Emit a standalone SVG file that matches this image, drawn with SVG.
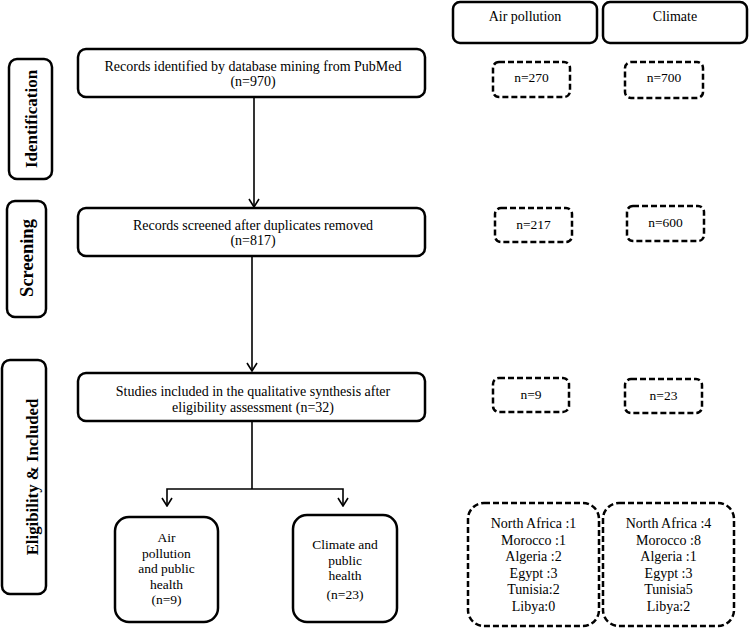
<svg xmlns="http://www.w3.org/2000/svg" width="749" height="629" viewBox="0 0 749 629">
<style>
.box{fill:#fff;stroke:#000;stroke-width:2.5}
.dash{fill:#fff;stroke:#000;stroke-width:2.5;stroke-dasharray:6 3}
.t{font-family:"Liberation Serif","Times New Roman",serif;font-size:13.5px;fill:#000;text-anchor:middle}
.m{font-family:"Liberation Serif","Times New Roman",serif;font-size:14px;fill:#000;text-anchor:middle}
.s{font-family:"Liberation Serif","Times New Roman",serif;font-size:14px;fill:#000;text-anchor:middle}
.side{font-family:"Liberation Serif","Times New Roman",serif;font-weight:bold;fill:#000;text-anchor:middle;dominant-baseline:central}
.ln{fill:none;stroke:#000;stroke-width:1.6}
</style>
<defs>
<marker id="ah" markerWidth="10" markerHeight="12" refX="9" refY="5.5" orient="auto-start-reverse" markerUnits="userSpaceOnUse" viewBox="0 0 10 11">
<path d="M1,0.5 L9,5.5 L1,10.5" fill="none" stroke="#000" stroke-width="1.6"/>
</marker>
</defs>
<rect width="749" height="629" fill="#fff"/>

<g id="side-identification">
<rect class="box" x="9" y="59" width="43" height="120" rx="8"/>
<text class="side" font-size="17" transform="translate(31,119) rotate(-90)">Identification</text>
</g>
<g id="side-screening">
<rect class="box" x="7" y="201" width="39" height="116" rx="8"/>
<text class="side" font-size="18.5" transform="translate(27,258) rotate(-90)">Screening</text>
</g>
<g id="side-eligibility">
<rect class="box" x="2" y="360" width="44" height="234" rx="8"/>
<text class="side" font-size="16.8" transform="translate(32,477) rotate(-90)">Eligibility &amp; Included</text>
</g>

<g id="hdr-air">
<rect class="box" x="453" y="2" width="144" height="41" rx="7"/>
<text class="m" x="525" y="21">Air pollution</text>
</g>
<g id="hdr-climate">
<rect class="box" x="603" y="2" width="144" height="41" rx="7"/>
<text class="m" x="675" y="21">Climate</text>
</g>

<g id="identified">
<rect class="box" x="78" y="49" width="347" height="48" rx="8"/>
<text class="m" x="253" y="71">Records identified by database mining from PubMed</text>
<text class="m" x="253" y="86">(n=970)</text>
</g>
<g id="screened">
<rect class="box" x="78" y="208" width="347" height="48" rx="8"/>
<text class="m" x="253" y="230">Records screened after duplicates removed</text>
<text class="m" x="253" y="245">(n=817)</text>
</g>
<g id="included">
<rect class="box" x="78" y="373" width="347" height="48" rx="8"/>
<text class="m" x="253" y="396">Studies included in the qualitative synthesis after</text>
<text class="m" x="253" y="412">eligibility assessment (n=32)</text>
</g>
<g id="air-health">
<rect class="box" x="115" y="517" width="103" height="105" rx="14"/>
<text class="t" x="166.5" y="542">Air</text>
<text class="t" x="166.5" y="557.5">pollution</text>
<text class="t" x="166.5" y="573">and public</text>
<text class="t" x="166.5" y="588.5">health</text>
<text class="t" x="166.5" y="604">(n=9)</text>
</g>
<g id="climate-health">
<rect class="box" x="293" y="515" width="104" height="107" rx="14"/>
<text class="t" x="345" y="549">Climate and</text>
<text class="t" x="345" y="564.5">public</text>
<text class="t" x="345" y="580">health</text>
<text class="t" x="345" y="599">(n=23)</text>
</g>

<g id="n270">
<rect class="dash" x="493" y="62" width="77" height="35" rx="6"/>
<text class="t" x="531.5" y="82">n=270</text>
</g>
<g id="n700">
<rect class="dash" x="625" y="62" width="78" height="36" rx="6"/>
<text class="t" x="664" y="82">n=700</text>
</g>
<g id="n217">
<rect class="dash" x="495" y="208" width="77" height="34" rx="6"/>
<text class="t" x="533.5" y="229">n=217</text>
</g>
<g id="n600">
<rect class="dash" x="627" y="206" width="77" height="35" rx="6"/>
<text class="t" x="665.5" y="227">n=600</text>
</g>
<g id="n9">
<rect class="dash" x="493" y="378" width="76" height="34" rx="6"/>
<text class="t" x="531" y="399">n=9</text>
</g>
<g id="n23">
<rect class="dash" x="625" y="379" width="77" height="34" rx="6"/>
<text class="t" x="663.5" y="400">n=23</text>
</g>
<g id="countries-air">
<rect class="dash" x="468" y="503" width="131" height="123" rx="16"/>
<text class="s" x="533.5" y="528">North Africa :1</text>
<text class="s" x="533.5" y="544.5">Morocco :1</text>
<text class="s" x="533.5" y="561">Algeria :2</text>
<text class="s" x="533.5" y="577.5">Egypt :3</text>
<text class="s" x="533.5" y="594">Tunisia:2</text>
<text class="s" x="533.5" y="610.5">Libya:0</text>
</g>
<g id="countries-climate">
<rect class="dash" x="603" y="503" width="131" height="123" rx="16"/>
<text class="s" x="668.5" y="528">North Africa :4</text>
<text class="s" x="668.5" y="544.5">Morocco :8</text>
<text class="s" x="668.5" y="561">Algeria :1</text>
<text class="s" x="668.5" y="577.5">Egypt :3</text>
<text class="s" x="668.5" y="594">Tunisia5</text>
<text class="s" x="668.5" y="610.5">Libya:2</text>
</g>

<g id="connectors">
<line class="ln" x1="254" y1="98" x2="254" y2="207" marker-end="url(#ah)"/>
<line class="ln" x1="252" y1="257" x2="252" y2="371" marker-end="url(#ah)"/>
<line class="ln" x1="252" y1="422" x2="252" y2="489"/>
<polyline class="ln" points="167,506 167,489 343,489 343,506" marker-start="url(#ah)" marker-end="url(#ah)"/>
</g>
</svg>
